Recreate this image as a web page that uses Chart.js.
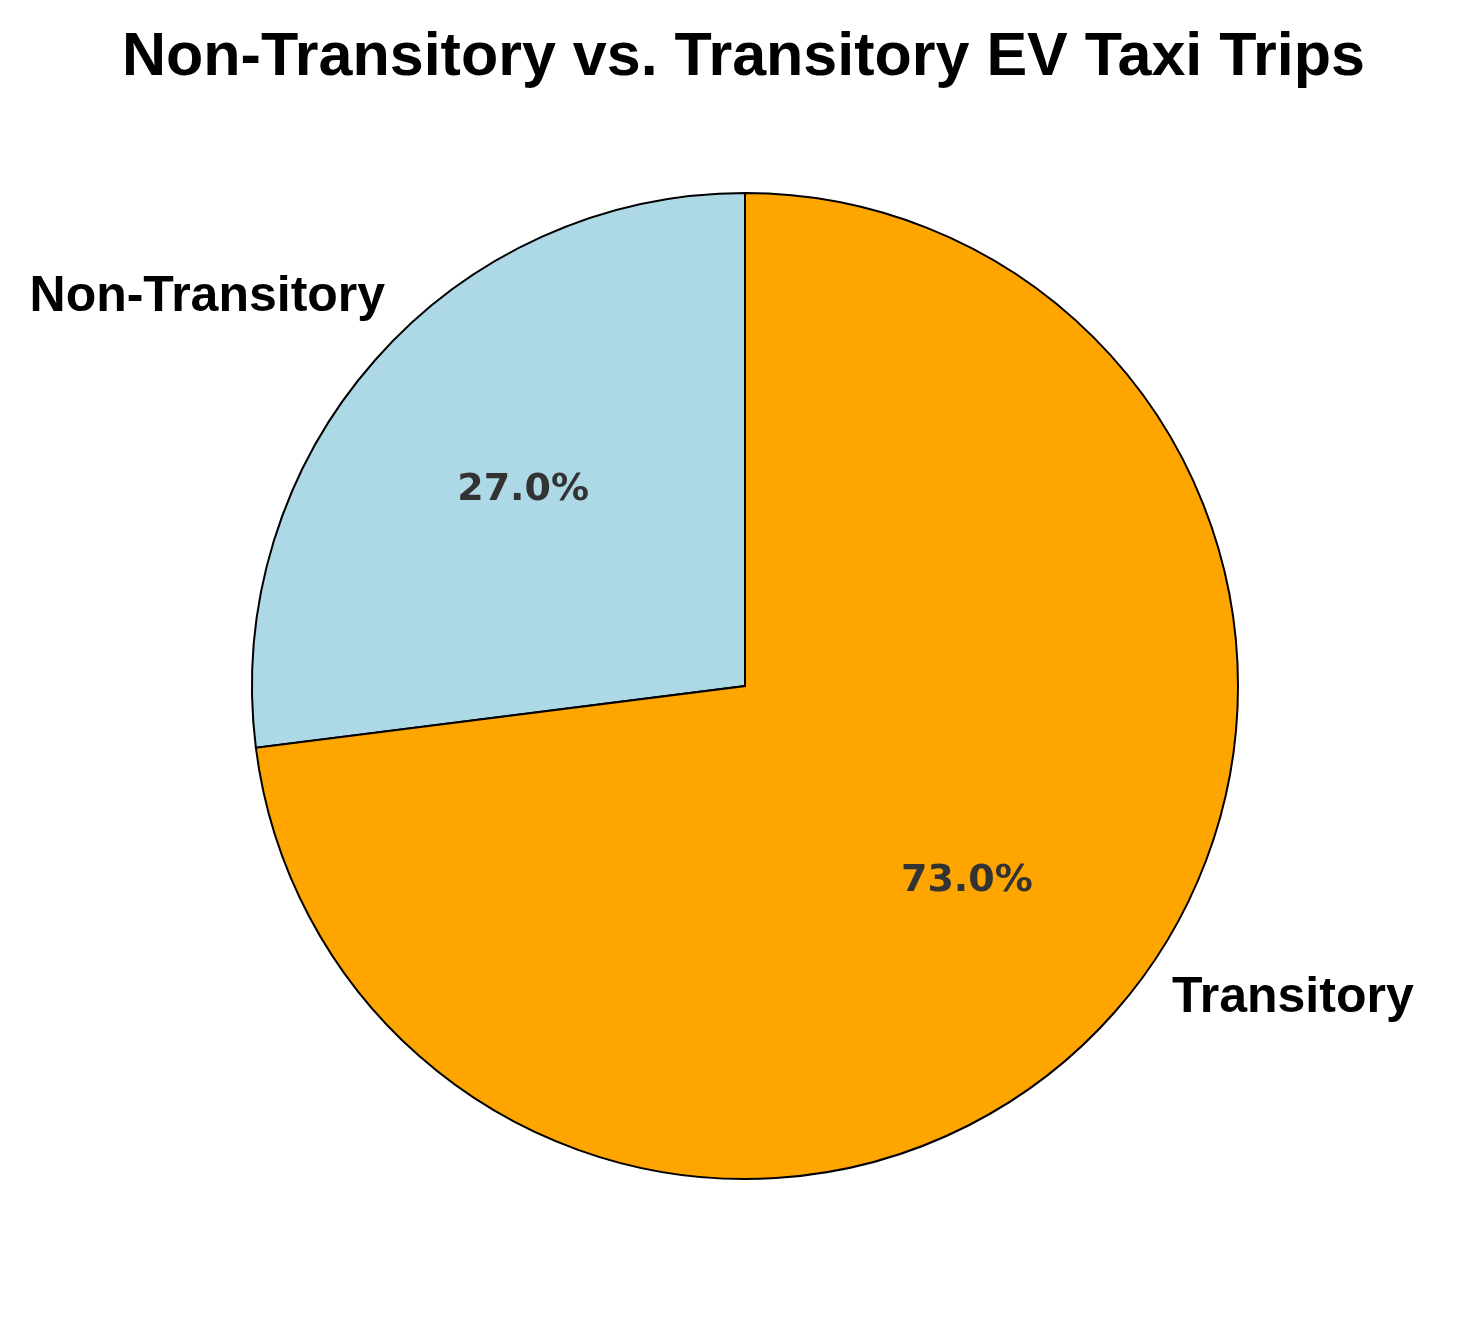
<!DOCTYPE html>
<html>
<head>
<meta charset="utf-8">
<script src="https://cdn.jsdelivr.net/npm/chart.js@4/dist/chart.umd.min.js"></script>
<style>
  html, body { margin: 0; padding: 0; background: #fff; }
  #wrap { width: 1481px; height: 1322px; }
</style>
</head>
<body>
<div id="wrap"><canvas id="pie"></canvas></div>
<script>
// Data
const categories = ["Non-Transitory", "Transitory"];
const shares = [27.0, 73.0];
const sliceColors = ["#ADD8E6", "#FFA500"];
const titleText = "Non-Transitory vs. Transitory EV Taxi Trips";

// matplotlib-like: first slice starts at 12 o'clock going counter-clockwise
const total = shares.reduce((a, b) => a + b, 0);
const startRotation = -360 * shares[0] / total;

const textPlugin = {
  id: "pieText",
  afterDraw: (chart) => {
    const ctx = chart.ctx;
    const arcs = chart.getDatasetMeta(0).data;

    // Title
    ctx.save();
    ctx.fillStyle = "#000";
    ctx.font = "bold 61px 'Liberation Sans', Arial, sans-serif";
    ctx.textAlign = "center";
    ctx.textBaseline = "alphabetic";
    ctx.fillText(titleText, chart.width / 2 + 3, 75);
    ctx.restore();

    // Category labels outside, percentages inside
    const labelOffsets = [
      { fx: -0.73, fy: -0.76, align: "right" },
      { fx: 0.866, fy: 0.662, align: "left" },
    ];
    arcs.forEach((arc, i) => {
      const { x, y, startAngle, endAngle, outerRadius } = arc.getProps(
        ["x", "y", "startAngle", "endAngle", "outerRadius"], true);
      const mid = (startAngle + endAngle) / 2;

      ctx.save();
      ctx.fillStyle = "#333333";
      ctx.font = "bold 38px 'DejaVu Sans', sans-serif";
      ctx.textAlign = "center";
      ctx.textBaseline = "middle";
      const pr = outerRadius * 0.6;
      ctx.fillText(shares[i].toFixed(1) + "%", x + Math.cos(mid) * pr, y + Math.sin(mid) * pr);
      ctx.restore();

      const o = labelOffsets[i];
      ctx.save();
      ctx.fillStyle = "#000";
      ctx.font = "bold 50px 'Liberation Sans', Arial, sans-serif";
      ctx.textAlign = o.align;
      ctx.textBaseline = "alphabetic";
      ctx.fillText(categories[i], x + o.fx * outerRadius, y + o.fy * outerRadius);
      ctx.restore();
    });
  },
};

new Chart(document.getElementById("pie"), {
  type: "pie",
  data: {
    labels: categories,
    datasets: [
      {
        data: shares,
        backgroundColor: sliceColors,
        hoverBackgroundColor: sliceColors,
        borderColor: "#000",
        borderWidth: 2,
        borderJoinStyle: "miter",
      },
    ],
  },
  options: {
    responsive: true,
    maintainAspectRatio: false,
    animation: false,
    rotation: startRotation,
    layout: {
      padding: { top: 192, bottom: 142, left: 150, right: 141 },
    },
    plugins: {
      legend: { display: false },
      title: { display: false },
      tooltip: { enabled: false },
    },
  },
  plugins: [textPlugin],
});
</script>
</body>
</html>
